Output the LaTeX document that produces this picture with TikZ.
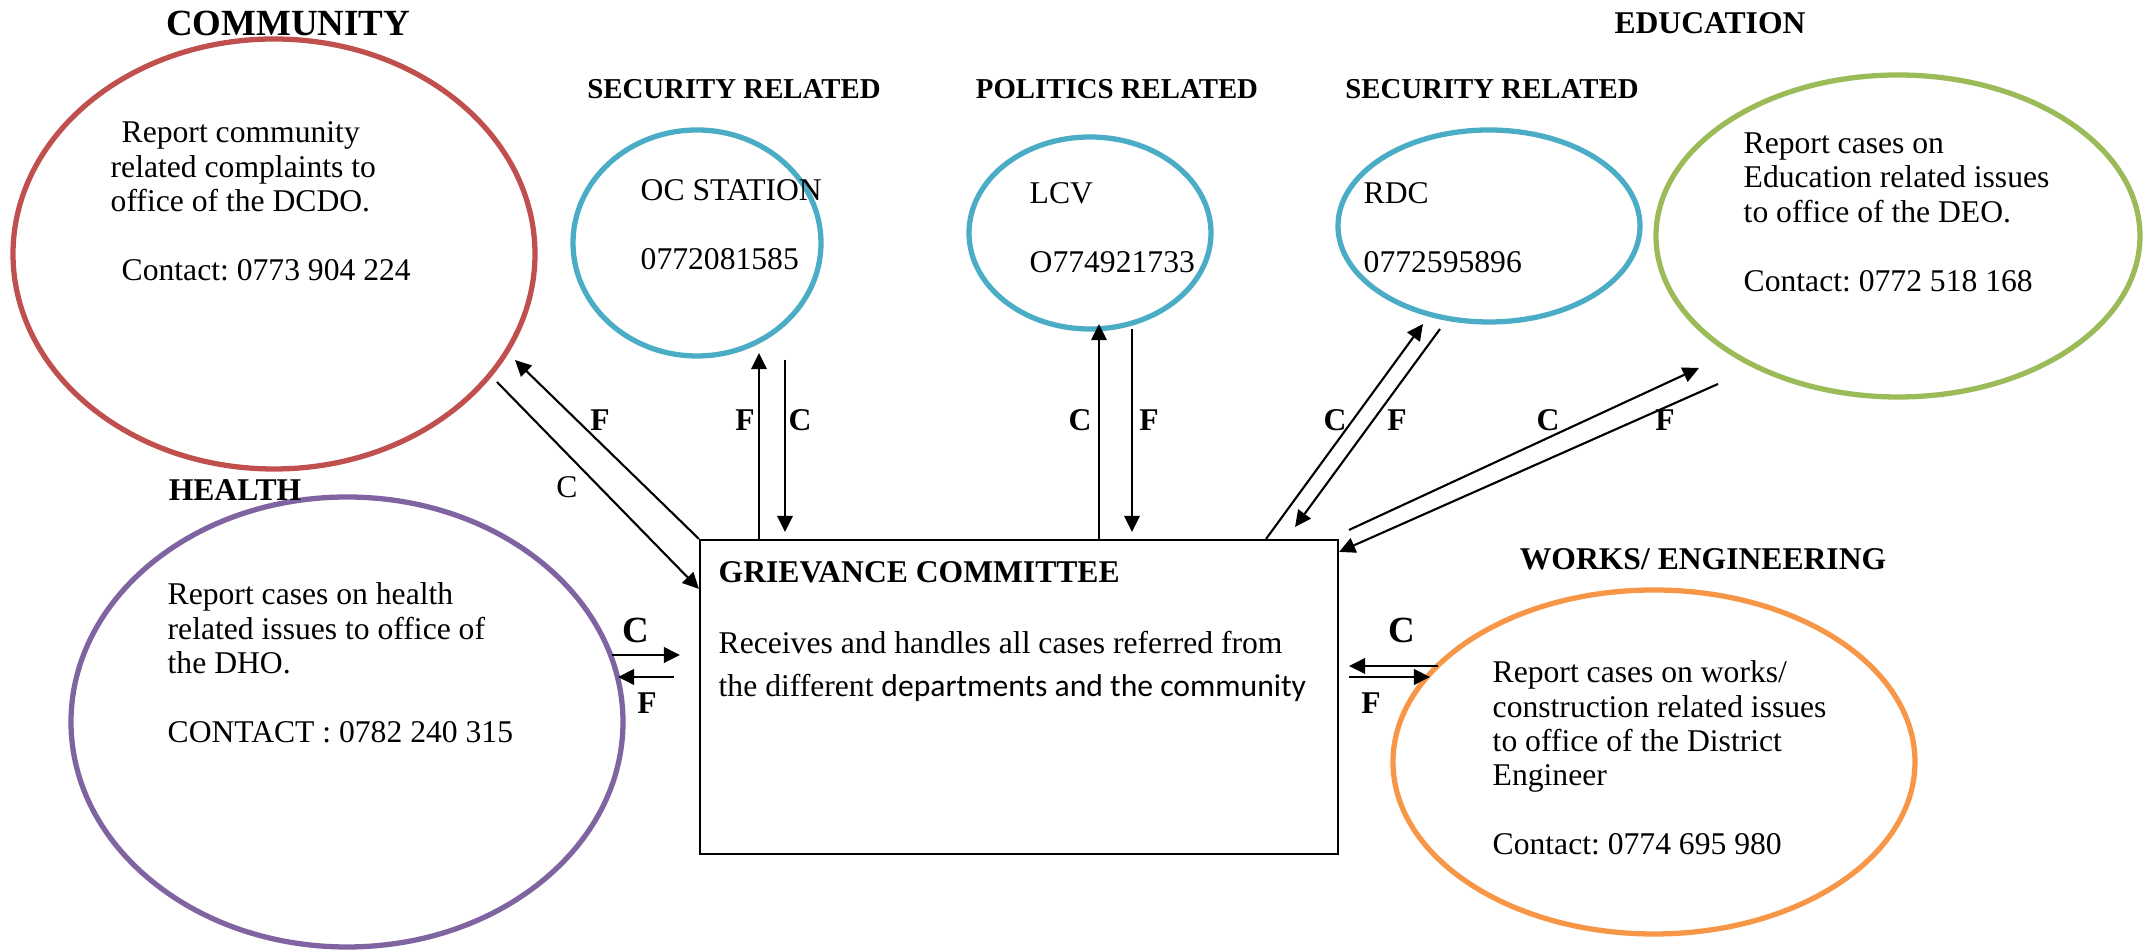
\documentclass[tikz,border=0pt]{standalone}
\usepackage{fontspec}
\setmainfont{Liberation Serif}
\newfontfamily\calibri{Carlito}
\usepackage{tikz}
\usetikzlibrary{shapes.geometric,arrows.meta}
\definecolor{redbrown}{RGB}{192,80,77}
\definecolor{skyblue}{RGB}{75,172,198}
\definecolor{leafgreen}{RGB}{155,187,89}
\definecolor{mauve}{RGB}{128,100,162}
\definecolor{tangerine}{RGB}{247,150,70}
\frenchspacing
\tikzset{>={Triangle[length=4.6pt,width=4.4pt]}}
\tikzset{%
    dept/.style={draw=#1, line width=1.5pt, ellipse, inner sep=0pt},
    heading/.style={font=\fontsize{9}{10}\selectfont\bfseries, inner sep=0pt},
    body/.style={font=\fontsize{9}{9.8}\selectfont, align=left, anchor=north west, inner sep=0pt},
    flow/.style={->, line width=0.6pt},
    letter/.style={font=\fontsize{9}{10}\selectfont\bfseries, inner sep=0pt}
}

\begin{document}
\begin{tikzpicture}
\useasboundingbox (0,0) rectangle (21.52,9.5);

% the offices
\node[dept=redbrown, minimum width=5.22cm, minimum height=4.30cm] (comm) at (2.74,6.96) {};
\node[dept=skyblue, minimum width=2.48cm, minimum height=2.26cm] (oc) at (6.97,7.07) {};
\node[dept=skyblue, minimum width=2.42cm, minimum height=1.92cm] (lcv) at (10.90,7.17) {};
\node[dept=skyblue, minimum width=3.02cm, minimum height=1.92cm] (rdc) at (14.89,7.24) {};
\node[dept=leafgreen, minimum width=4.84cm, minimum height=3.22cm] (edu) at (18.98,7.14) {};
\node[dept=mauve, minimum width=5.52cm, minimum height=4.50cm] (hlth) at (3.47,2.28) {};
\node[dept=tangerine, minimum width=5.22cm, minimum height=3.44cm] (wrk) at (16.54,1.88) {};
\node[draw, line width=0.6pt, minimum width=6.38cm, minimum height=3.14cm, inner sep=0pt] (gc) at (10.19,2.53) {};

% headings
\node[heading, font=\fontsize{10.5}{12}\selectfont\bfseries] (commT) at (2.88,9.27) {COMMUNITY};
\node[heading, font=\fontsize{8.2}{10}\selectfont\bfseries] (ocT) at (7.34,8.61) {SECURITY RELATED};
\node[heading, font=\fontsize{8.2}{10}\selectfont\bfseries] (lcvT) at (11.17,8.61) {POLITICS RELATED};
\node[heading, font=\fontsize{8.2}{10}\selectfont\bfseries] (rdcT) at (14.92,8.61) {SECURITY RELATED};
\node[heading] (eduT) at (17.10,9.27) {EDUCATION};
\node[heading] (hlthT) at (2.35,4.60) {HEALTH};
\node[heading] (wrkT) at (17.03,3.91) {WORKS/ ENGINEERING};

% texts
\node[body] (commX) at (1.10,8.29) {\hspace*{0.11cm}Report community\\related complaints to\\office of the DCDO.\\[9.8pt]\hspace*{0.11cm}Contact: 0773 904 224};
\node[body] (ocX) at (6.40,7.71) {OC STATION\\[9.8pt]0772081585};
\node[body] (lcvX) at (10.29,7.68) {LCV\\[9.8pt]O774921733};
\node[body] (rdcX) at (13.63,7.68) {RDC\\[9.8pt]0772595896};
\node[body] (eduX) at (17.43,8.18) {Report cases on\\Education related issues\\to office of the DEO.\\[9.8pt]Contact: 0772 518 168};
\node[body] (hlthX) at (1.67,3.68) {Report cases on health\\related issues to office of\\the DHO.\\[9.8pt]CONTACT : 0782 240 315};
\node[body] (wrkX) at (14.92,2.90) {Report cases on works/\\construction related issues\\to office of the District\\Engineer\\[9.8pt]Contact: 0774 695 980};
\node[heading, anchor=west] (gcT) at (7.18,3.78) {GRIEVANCE COMMITTEE};
\node[body, font=\fontsize{9}{12}\selectfont] (gcX) at (7.18,3.19) {Receives and handles all cases referred from\\the different {\calibri departments and the community}};

% community
\coordinate (commF) at (5.15,5.90);
\coordinate (commC) at (4.97,5.68);
\draw[flow] (gc.north west) -- (commF);
\draw[flow] (commC) -- ([yshift=-0.50cm]gc.north west);
\node[letter] (commFl) at (6.00,5.30) {F};
\node[letter, font=\fontsize{9}{10}\selectfont] (commCl) at (5.67,4.63) {C};

% oc station
\coordinate (ocF) at (7.59,5.97);
\coordinate (ocC) at (7.85,5.90);
\draw[flow] (gc.north -| ocF) -- (ocF);
\draw[flow, shorten >=0.07cm] (ocC) -- (ocC |- gc.north);
\node[letter] (ocFl) at (7.45,5.30) {F};
\node[letter] (ocCl) at (8.00,5.30) {C};

% lcv
\coordinate (lcvC) at (10.99,6.26);
\coordinate (lcvF) at (11.32,6.21);
\draw[flow] (gc.north -| lcvC) -- (lcvC);
\draw[flow, shorten >=0.07cm] (lcvF) -- (lcvF |- gc.north);
\node[letter] (lcvCl) at (10.80,5.30) {C};
\node[letter] (lcvFl) at (11.49,5.30) {F};

% rdc
\coordinate (rdcC) at (14.23,6.26);
\coordinate (rdcF) at (14.40,6.21);
\draw[flow] ([xshift=-0.73cm]gc.north east) -- (rdcC);
\draw[flow] (rdcF) -- ([xshift=-0.44cm,yshift=0.12cm]gc.north east);
\node[letter] (rdcCl) at (13.35,5.30) {C};
\node[letter] (rdcFl) at (13.97,5.30) {F};

% education
\coordinate (eduC) at (16.99,5.82);
\coordinate (eduF) at (17.18,5.66);
\draw[flow] ([xshift=0.10cm,yshift=0.09cm]gc.north east) -- (eduC);
\draw[flow] (eduF) -- ([yshift=-0.13cm]gc.north east);
\node[letter] (eduCl) at (15.48,5.30) {C};
\node[letter] (eduFl) at (16.65,5.30) {F};

% health
\coordinate (hlthC) at (6.12,2.95);
\coordinate (hlthF) at (6.18,2.73);
\draw[flow, line width=0.8pt, shorten >=0.19cm] (hlthC) -- (hlthC -| gc.west);
\draw[flow, line width=0.8pt, shorten <=0.25cm] (hlthF -| gc.west) -- (hlthF);
\node[letter, font=\fontsize{10.5}{12}\selectfont\bfseries] (hlthCl) at (6.36,3.20) {C};
\node[letter] (hlthFl) at (6.47,2.47) {F};

% works
\coordinate (wrkC) at (14.38,2.84);
\coordinate (wrkF) at (14.30,2.73);
\draw[flow, line width=0.8pt, shorten >=0.10cm] (wrkC) -- (wrkC -| gc.east);
\draw[flow, line width=0.8pt, shorten <=0.10cm] (wrkF -| gc.east) -- (wrkF);
\node[letter, font=\fontsize{10.5}{12}\selectfont\bfseries] (wrkCl) at (14.02,3.20) {C};
\node[letter] (wrkFl) at (13.71,2.47) {F};
\end{tikzpicture}
\end{document}
